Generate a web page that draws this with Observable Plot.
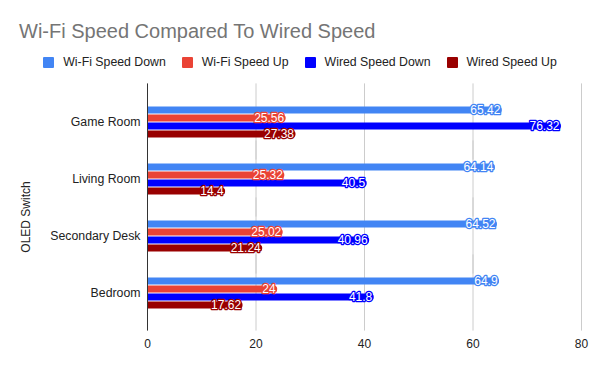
<!DOCTYPE html>
<html>
<head>
<meta charset="utf-8">
<script src="https://cdn.jsdelivr.net/npm/d3@7"></script>
<script src="https://cdn.jsdelivr.net/npm/@observablehq/plot@0.6"></script>
<style>
  html, body { margin: 0; padding: 0; background: #fff; }
  #wrap { position: relative; width: 600px; height: 371px; font-family: "Liberation Sans", Arial, sans-serif; }
  #title { position: absolute; left: 19px; top: 19px; font-size: 20px; color: #757575; white-space: nowrap; line-height: 24px; }
  #legend { position: absolute; left: 0; width: 600px; top: 55px; display: flex; justify-content: center; font-size: 12.3px; color: #222; line-height: 14px; }
  .item { display: flex; align-items: center; margin: 0 8px; }
  .sw { width: 11px; height: 11px; margin-right: 9px; border-radius: 1px; }
  #ylab { position: absolute; left: 26px; top: 217px; transform: translate(-50%, -50%) rotate(-90deg); font-size: 12px; color: #222; white-space: nowrap; }
  #chart { position: absolute; left: 0; top: 0; }
</style>
</head>
<body>
<div id="wrap">
  <div id="chart"></div>
  <div id="title"></div>
  <div id="legend"></div>
  <div id="ylab"></div>
</div>
<script>
const titleText = "Wi-Fi Speed Compared To Wired Speed";
const axisTitle = "OLED Switch";
const categories = ["Game Room", "Living Room", "Secondary Desk", "Bedroom"];
const series = ["Wi-Fi Speed Down", "Wi-Fi Speed Up", "Wired Speed Down", "Wired Speed Up"];
const wifiDown = [65.42, 64.14, 64.52, 64.9];
const wifiUp = [25.56, 25.32, 25.02, 24];
const wiredDown = [76.32, 40.5, 40.96, 41.8];
const wiredUp = [27.38, 14.4, 21.24, 17.62];
const colors = ["#4285f4", "#ea4335", "#0000ff", "#990000"];
const xTicks = [0, 20, 40, 60, 80];

const values = [wifiDown, wifiUp, wiredDown, wiredUp];
const data = [];
categories.forEach((c, i) => {
  series.forEach((s, j) => data.push({category: c, series: s, value: values[j][i]}));
});

document.getElementById("title").textContent = titleText;
document.getElementById("ylab").textContent = axisTitle;
const legend = document.getElementById("legend");
series.forEach((s, j) => {
  const it = document.createElement("div"); it.className = "item";
  const sw = document.createElement("div"); sw.className = "sw"; sw.style.background = colors[j];
  const tx = document.createElement("span"); tx.textContent = s;
  it.appendChild(sw); it.appendChild(tx); legend.appendChild(it);
});

const ext = 9.6; // frame extends beyond first/last facet band
const chart = Plot.plot({
  width: 600,
  height: 371,
  marginTop: 82 + ext,
  marginBottom: 39 + ext,
  marginLeft: 147,
  marginRight: 19,
  style: {fontFamily: "'Liberation Sans', Arial, sans-serif", fontSize: "12px", color: "#222", background: "transparent"},
  x: {domain: [0, 80], axis: null},
  y: {domain: series, axis: null, paddingInner: 0.17, paddingOuter: 1.4},
  fy: {domain: categories, padding: 0, label: null, axis: null},
  color: {domain: series, range: colors},
  marks: [
    Plot.ruleX(xTicks.filter(t => t > 0), {stroke: "#cccccc", insetTop: -ext, insetBottom: -ext}),
    Plot.axisX(xTicks, {anchor: "bottom", tickSize: 0, tickPadding: 8 + ext, label: null, fill: "#222"}),
    Plot.axisFy({anchor: "left", tickSize: 0, tickPadding: 7, label: null, fill: "#222", fontSize: 12.3}),
    Plot.barX(data, {x1: -3, x2: "value", y: "series", fy: "category", fill: "series", rx: 3.5, clip: true}),
    Plot.text(data, {x: "value", y: "series", fy: "category", text: d => String(d.value), textAnchor: "end", dx: -2, fill: "white", stroke: "series", strokeWidth: 2.5, fontSize: 12}),
    Plot.ruleX([0], {stroke: "#333", insetTop: -ext, insetBottom: -ext})
  ]
});
document.getElementById("chart").appendChild(chart);
</script>
</body>
</html>
